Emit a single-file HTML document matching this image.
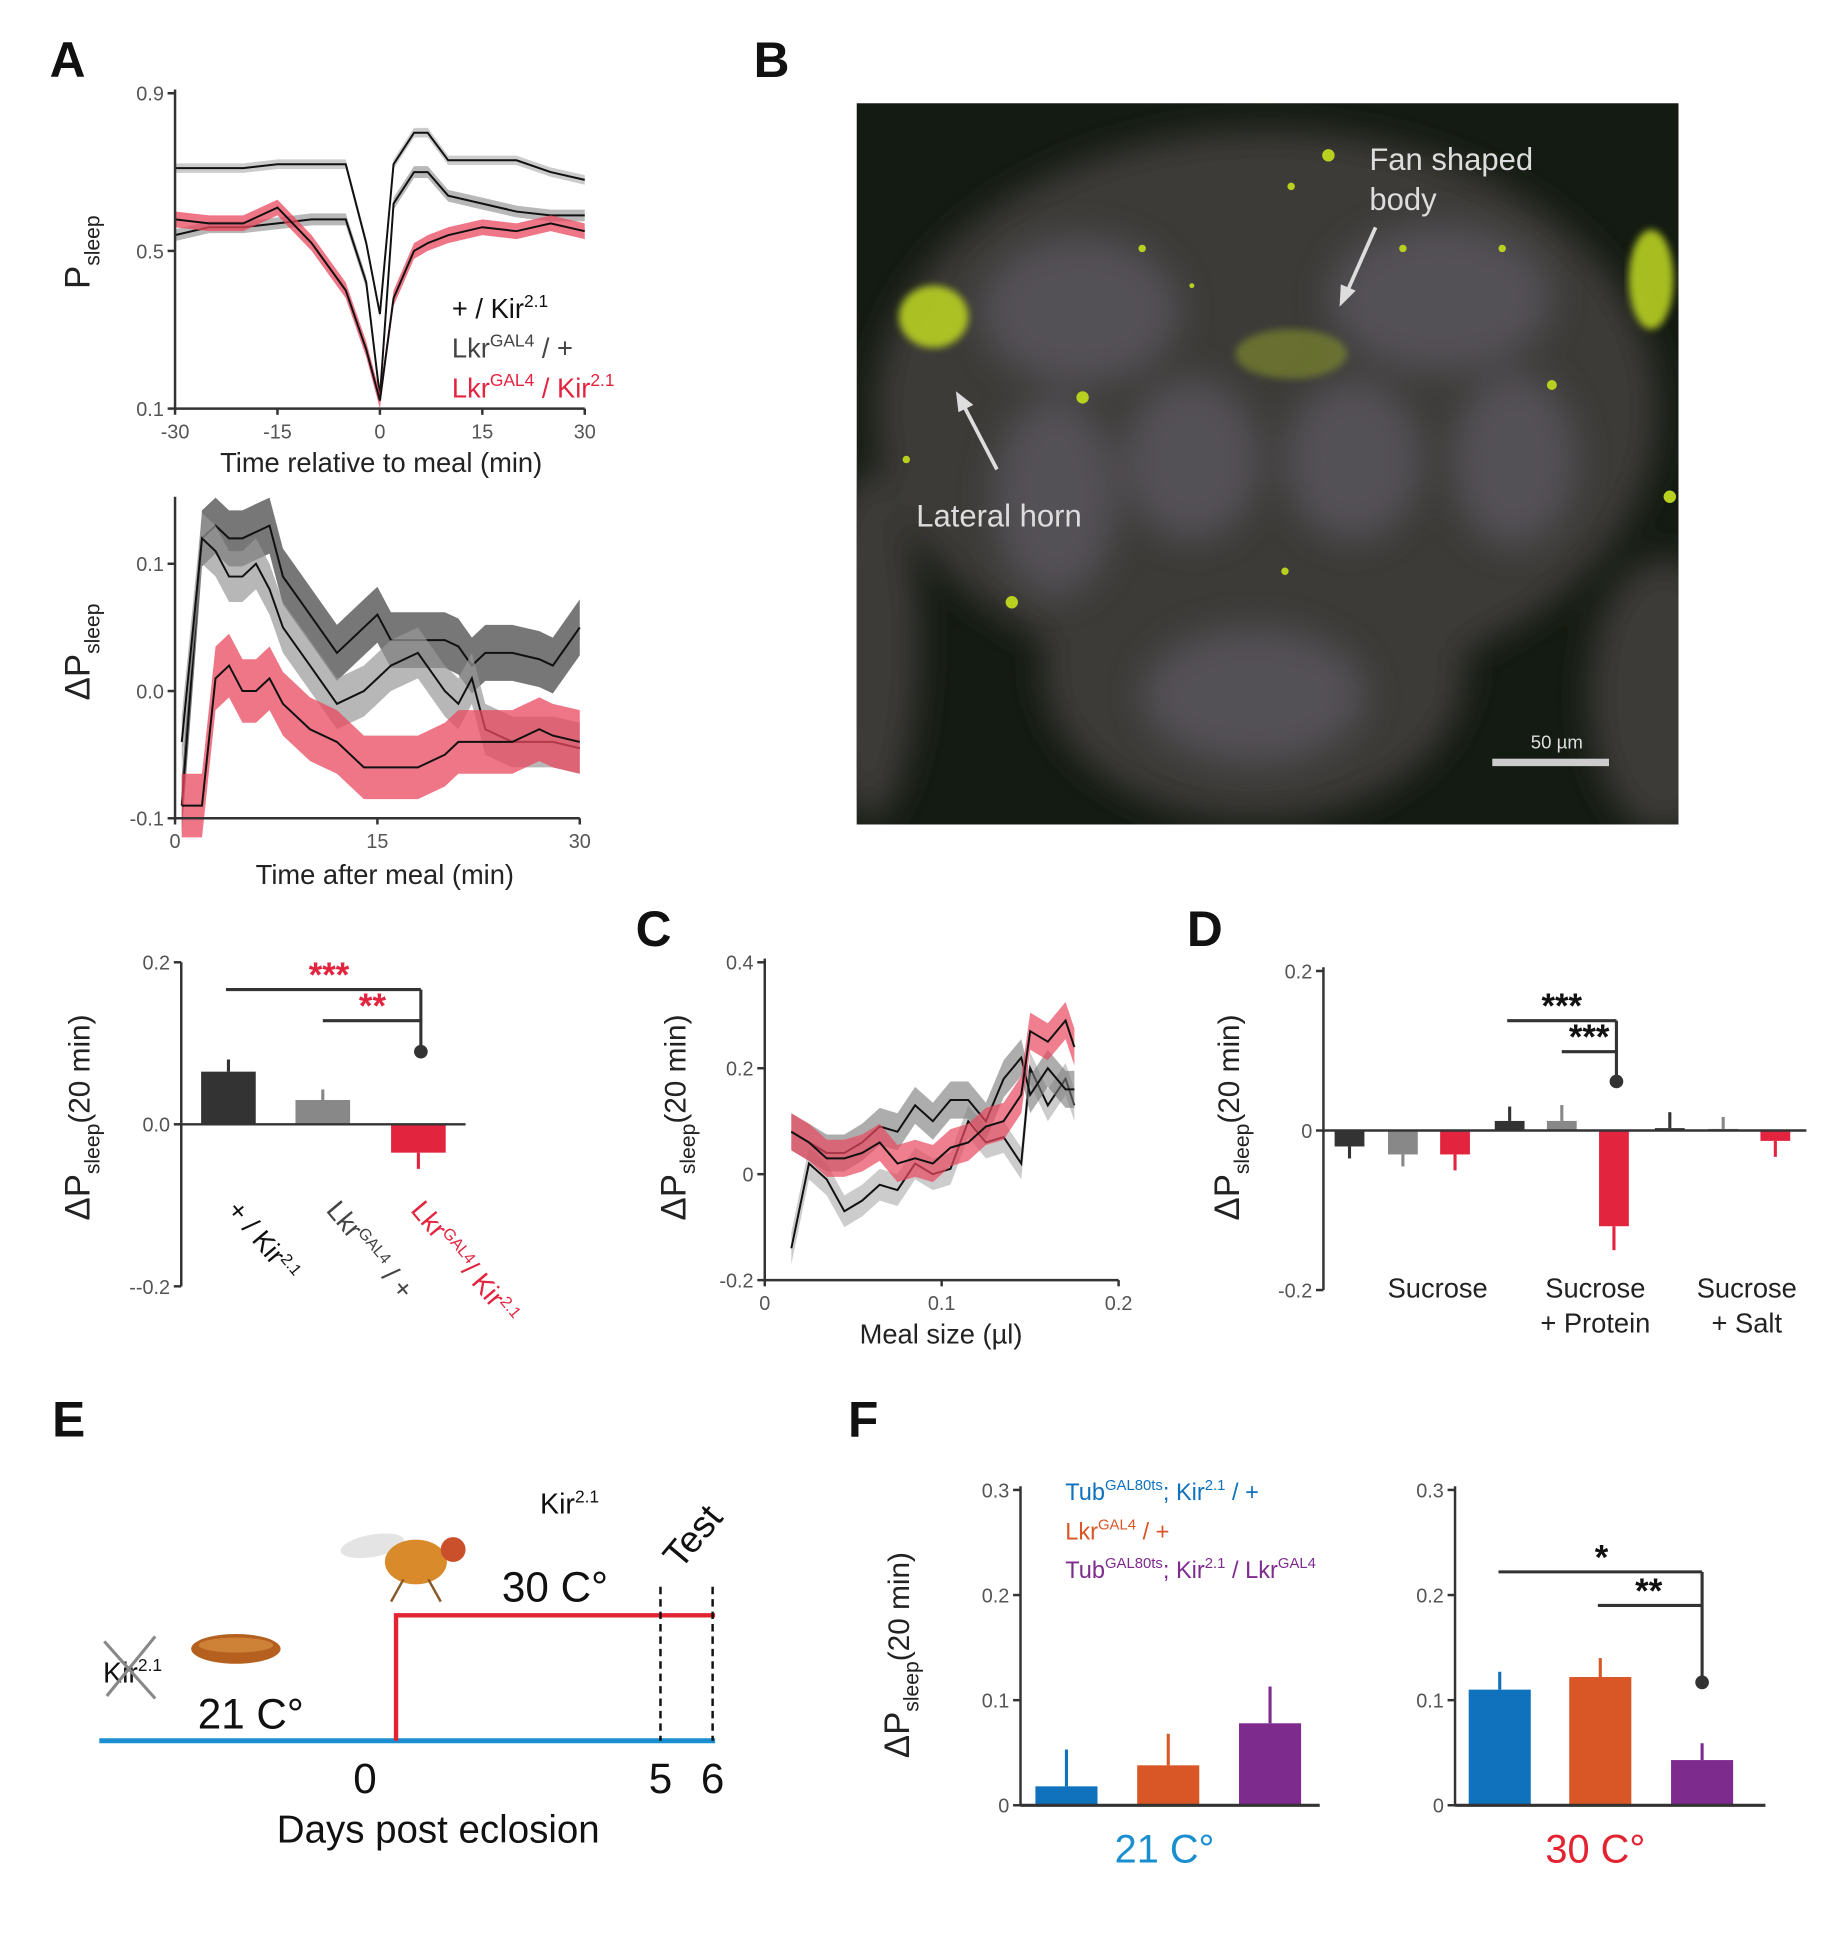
<!DOCTYPE html>
<html><head><meta charset="utf-8"><style>
html,body{margin:0;padding:0;background:#fff;}
svg{display:block;font-family:"Liberation Sans",sans-serif;}
</style></head><body>
<svg id="fig" width="1825" height="1937" viewBox="0 0 1470 1560" xmlns="http://www.w3.org/2000/svg">
<defs>
<filter id="blur" x="-20%" y="-20%" width="140%" height="140%"><feGaussianBlur stdDeviation="14"/></filter>
<filter id="blur2"><feGaussianBlur stdDeviation="3"/></filter>
<clipPath id="imgclip"><rect x="690" y="83" width="662" height="581"/></clipPath>
</defs>
<g font-weight="bold" font-size="40" fill="#111">
<text x="40" y="62">A</text>
<text x="607" y="62">B</text>
<text x="512" y="762">C</text>
<text x="956" y="762">D</text>
<text x="42" y="1157">E</text>
<text x="683" y="1157">F</text>
</g>

<!-- Panel B image approximation -->
<g clip-path="url(#imgclip)">
<rect x="690" y="83" width="662" height="581" fill="#141b12"/>
<g filter="url(#blur)" fill="#3e3b38">
<ellipse cx="1020" cy="330" rx="315" ry="225"/>
<ellipse cx="1010" cy="540" rx="170" ry="120"/>
<ellipse cx="700" cy="520" rx="40" ry="140"/>
<ellipse cx="1340" cy="560" rx="60" ry="110"/>
</g>
<g filter="url(#blur)" fill="#57525a" opacity="0.9">
<ellipse cx="870" cy="250" rx="80" ry="60"/>
<ellipse cx="1160" cy="240" rx="90" ry="60"/>
<ellipse cx="850" cy="400" rx="50" ry="80"/>
<ellipse cx="960" cy="370" rx="55" ry="65"/>
<ellipse cx="1090" cy="370" rx="55" ry="65"/>
<ellipse cx="1010" cy="560" rx="90" ry="55"/>
<ellipse cx="1220" cy="370" rx="50" ry="70"/>
</g>
<g fill="#b8d020">
<ellipse cx="752" cy="255" rx="28" ry="25" filter="url(#blur2)" opacity="0.9"/>
<ellipse cx="1330" cy="225" rx="18" ry="40" filter="url(#blur2)" opacity="0.9"/>
<ellipse cx="1040" cy="285" rx="45" ry="20" opacity="0.35" filter="url(#blur2)"/>
<circle cx="1070" cy="125" r="5"/><circle cx="1040" cy="150" r="3"/><circle cx="1130" cy="200" r="3"/>
<circle cx="872" cy="320" r="5"/><circle cx="1250" cy="310" r="4"/><circle cx="1345" cy="400" r="5"/>
<circle cx="730" cy="370" r="3"/><circle cx="815" cy="485" r="5"/><circle cx="1035" cy="460" r="3"/>
<circle cx="920" cy="200" r="3"/><circle cx="960" cy="230" r="2"/><circle cx="1210" cy="200" r="3"/>
</g>
<rect x="1202" y="611" width="94" height="6" fill="#ccc"/>
<text x="1254" y="603" fill="#ddd" font-size="15" text-anchor="middle">50 µm</text>
<text x="1103" y="137" fill="#ddd" font-size="25">Fan shaped</text>
<text x="1103" y="169" fill="#ddd" font-size="25">body</text>
<text x="738" y="424" fill="#ddd" font-size="25">Lateral horn</text>
<line x1="1108" y1="183" x2="1085" y2="235" stroke="#ddd" stroke-width="3"/>
<polygon points="1079,247 1080,229 1092,234" fill="#ddd"/>
<line x1="803" y1="378" x2="777" y2="328" stroke="#ddd" stroke-width="3"/>
<polygon points="770,315 784,326 772,332" fill="#ddd"/>
</g>

<!-- Panel E -->
<g>
<line x1="80" y1="1402" x2="576" y2="1402" stroke="#1a8fd0" stroke-width="4"/>
<polyline points="319,1402 319,1301 576,1301" fill="none" stroke="#e32430" stroke-width="3.5"/>
<line x1="532" y1="1278" x2="532" y2="1402" stroke="#111" stroke-width="2" stroke-dasharray="6,4"/>
<line x1="574" y1="1278" x2="574" y2="1402" stroke="#111" stroke-width="2" stroke-dasharray="6,4"/>
<g font-size="34" fill="#111" text-anchor="middle">
<text x="294" y="1444">0</text>
<text x="532" y="1444">5</text>
<text x="574" y="1444">6</text>
<text x="353" y="1484" font-size="31">Days post eclosion</text>
<text x="202" y="1392">21 C°</text>
<text x="447" y="1290">30 C°</text>
</g>
<text x="435" y="1219" font-size="23" fill="#111">Kir<tspan font-size="14" dy="-9">2.1</tspan></text>
<text x="0" y="0" font-size="30" fill="#111" transform="translate(548,1265) rotate(-50)">Test</text>
<text x="83" y="1355" font-size="23" fill="#111">Kir<tspan font-size="14" dy="-9">2.1</tspan></text>
<line x1="84" y1="1322" x2="125" y2="1368" stroke="#888" stroke-width="2.5"/>
<line x1="125" y1="1318" x2="86" y2="1366" stroke="#888" stroke-width="2.5"/>
<ellipse cx="190" cy="1328" rx="36" ry="12" fill="#b5601e"/>
<ellipse cx="190" cy="1325" rx="30" ry="6" fill="#e09a4a" opacity="0.6"/>
<g>
<ellipse cx="300" cy="1245" rx="26" ry="9" fill="#ddd" opacity="0.8" transform="rotate(-10 300 1245)"/>
<ellipse cx="335" cy="1258" rx="25" ry="18" fill="#d98a2a"/>
<circle cx="365" cy="1248" r="10" fill="#c9502a"/>
<line x1="325" y1="1272" x2="315" y2="1290" stroke="#8a5a2a" stroke-width="2"/>
<line x1="345" y1="1272" x2="355" y2="1290" stroke="#8a5a2a" stroke-width="2"/>
</g>
</g>

<!-- Panel F legend -->
<g font-size="19">
<text x="858" y="1208" fill="#1071bd">Tub<tspan font-size="12" dy="-8">GAL80ts</tspan><tspan dy="8">; Kir</tspan><tspan font-size="12" dy="-8">2.1</tspan><tspan dy="8"> / +</tspan></text>
<text x="858" y="1240" fill="#d95627">Lkr<tspan font-size="12" dy="-8">GAL4</tspan><tspan dy="8"> / +</tspan></text>
<text x="858" y="1271" fill="#7e2b8e">Tub<tspan font-size="12" dy="-8">GAL80ts</tspan><tspan dy="8">; Kir</tspan><tspan font-size="12" dy="-8">2.1</tspan><tspan dy="8"> / Lkr</tspan><tspan font-size="12" dy="-8">GAL4</tspan></text>
</g>
<text x="364" y="256" font-size="22" fill="#111">+ / Kir<tspan font-size="14" dy="-9">2.1</tspan></text>
<text x="364" y="288" font-size="22" fill="#444">Lkr<tspan font-size="14" dy="-9">GAL4</tspan><tspan dy="9"> / +</tspan></text>
<text x="364" y="320" font-size="22" fill="#e32440">Lkr<tspan font-size="14" dy="-9">GAL4</tspan><tspan dy="9"> / Kir</tspan><tspan font-size="14" dy="-9">2.1</tspan></text>

<g id="charts"></g>
</svg>
<script>
// ---------- data ----------
// Panel A top: time relative to meal
const aTopTime = [-30,-25,-20,-15,-10,-5,-2,0,2,5,7,10,15,20,25,30];
const aTopKir  = [0.71,0.71,0.71,0.72,0.72,0.72,0.52,0.34,0.72,0.80,0.80,0.73,0.73,0.73,0.70,0.68];
const aTopLkr  = [0.54,0.56,0.56,0.57,0.58,0.58,0.42,0.13,0.62,0.70,0.70,0.64,0.62,0.60,0.59,0.59];
const aTopExp  = [0.58,0.57,0.57,0.61,0.52,0.40,0.25,0.12,0.38,0.50,0.52,0.54,0.56,0.55,0.57,0.55];
const aTopTicksY = [0.1,0.5,0.9];
const aTopTicksX = [-30,-15,0,15,30];
// Panel A middle: time after meal
const aMidTime = [0.5,2,3,4,5,6,7,8,10,12,14,15,16,18,20,21,22,23,25,27,28,30];
const aMidS1 = [-0.09,0.12,0.13,0.12,0.12,0.125,0.13,0.09,0.06,0.03,0.05,0.06,0.04,0.04,0.04,0.035,0.02,0.03,0.03,0.025,0.02,0.05];
const aMidS2 = [-0.04,0.12,0.11,0.09,0.09,0.10,0.08,0.05,0.02,-0.01,0.00,0.01,0.02,0.03,0.00,-0.01,0.01,-0.03,-0.04,-0.04,-0.04,-0.045];
const aMidS3 = [-0.09,-0.09,0.01,0.02,0.00,0.00,0.01,-0.01,-0.03,-0.04,-0.06,-0.06,-0.06,-0.06,-0.05,-0.04,-0.04,-0.04,-0.04,-0.03,-0.035,-0.04];
const aMidTicksY = [-0.1,0.0,0.1];
const aMidTicksX = [0,15,30];
// Panel A bottom bars
const aBarCats = ['kir','lkr','lkr-kir'];
const aBarVals = [0.065,0.03,-0.035];
const aBarErr  = [0.015,0.013,0.02];
const aBarTicks = [-0.2,0.0,0.2];
// Panel C
const cMeal = [0.015,0.025,0.035,0.045,0.055,0.065,0.075,0.085,0.095,0.105,0.115,0.125,0.135,0.145,0.15,0.16,0.17,0.175];
const cRed  = [0.08,0.06,0.03,0.03,0.04,0.06,0.02,0.03,0.02,0.05,0.06,0.09,0.10,0.15,0.27,0.25,0.29,0.24];
const cDark = [0.08,0.06,0.04,0.04,0.06,0.09,0.08,0.13,0.10,0.14,0.14,0.10,0.18,0.22,0.15,0.20,0.16,0.16];
const cLight= [-0.14,0.02,-0.01,-0.07,-0.05,-0.02,-0.03,0.02,0.00,0.01,0.10,0.06,0.07,0.02,0.20,0.13,0.18,0.13];
const cTicksY = [-0.2,0,0.2,0.4];
const cTicksX = [0,0.1,0.2];
// Panel D
const dGroups = ['Sucrose','Sucrose + Protein','Sucrose + Salt'];
const dVals = [-0.02,-0.03,-0.03, 0.012,0.012,-0.12, 0.003,0.002,-0.013];
const dErr  = [0.015,0.015,0.02, 0.018,0.02,0.03, 0.02,0.015,0.02];
const dTicks = [-0.2,0,0.2];
// Panel F
const fVals21 = [0.018,0.038,0.078];
const fErr21  = [0.035,0.03,0.035];
const fVals30 = [0.11,0.122,0.043];
const fErr30  = [0.017,0.018,0.016];
const fTicks = [0,0.1,0.2,0.3];

// ---------- helpers ----------
const NS='http://www.w3.org/2000/svg';
const root=document.getElementById('charts');
function mk(tag,attrs,parent){const e=document.createElementNS(NS,tag);for(const k in attrs)e.setAttribute(k,attrs[k]);(parent||root).appendChild(e);return e;}
function lin(d0,d1,r0,r1){return v=>r0+(v-d0)/(d1-d0)*(r1-r0);}
function linePath(xs,ys,sx,sy){return xs.map((x,i)=>(i?'L':'M')+sx(x).toFixed(1)+','+sy(ys[i]).toFixed(1)).join('');}
function bandPath(xs,ys,hw,sx,sy){let p=xs.map((x,i)=>(i?'L':'M')+sx(x).toFixed(1)+','+sy(ys[i]+hw).toFixed(1)).join('');for(let i=xs.length-1;i>=0;i--)p+='L'+sx(xs[i]).toFixed(1)+','+sy(ys[i]-hw).toFixed(1);return p+'Z';}
function yAxis(x,sy,ticks,fmt,top,bot,name){
  const g=mk('g',{});
  
  
  mk('line',{x1:x,y1:top,x2:x,y2:bot,stroke:'#333','stroke-width':2},g);
  ticks.forEach(t=>{mk('line',{x1:x-6,y1:sy(t),x2:x,y2:sy(t),stroke:'#333','stroke-width':2},g);
    const tx=mk('text',{x:x-9,y:sy(t)+6,'font-size':16,fill:'#555','text-anchor':'end'},g);tx.textContent=fmt(t);});
  return g;
}
function xAxis(y,sx,ticks,fmt,l,r,name){
  const g=mk('g',{});
  
  
  mk('line',{x1:l,y1:y,x2:r,y2:y,stroke:'#333','stroke-width':2},g);
  ticks.forEach(t=>{mk('line',{x1:sx(t),y1:y,x2:sx(t),y2:y+5,stroke:'#333','stroke-width':2},g);
    const tx=mk('text',{x:sx(t),y:y+24,'font-size':16,fill:'#555','text-anchor':'middle'},g);tx.textContent=fmt(t);});
  return g;
}
function yTitle(cx,cy,prefix,suffix,name){
  const t=mk('text',{x:0,y:0,'font-size':28,fill:'#222','text-anchor':'middle',transform:`translate(${cx},${cy}) rotate(-90)`});
  
  
  t.innerHTML=prefix+'P<tspan font-size="17" dy="8">sleep</tspan>'+(suffix?'<tspan dy="-8" font-size="24">'+suffix+'</tspan>':'');
}
function xTitle(x,y,txt,name){const t=mk('text',{x:x,y:y,'font-size':22,fill:'#222','text-anchor':'middle'});t.textContent=txt;
  
  }
function series(xs,ys,hw,color,op,sx,sy,name){
  const b=mk('path',{d:bandPath(xs,ys,hw,sx,sy),fill:color,opacity:op});
  
  
  const l=mk('path',{d:linePath(xs,ys,sx,sy),fill:'none',stroke:'#111','stroke-width':1.6});
  
  
}
function bar(cx,w,v,err,color,sy,name){
  const y0=sy(0),y1=sy(v);
  const r=mk('rect',{x:cx-w/2,y:Math.min(y0,y1),width:w,height:Math.abs(y1-y0),fill:color});
  
  
  const e=mk('line',{x1:cx,y1:y1,x2:cx,y2:sy(v+(v>=0?err:-err)),stroke:color,'stroke-width':2.5});
  
  
}
function sig(x1,x2,y,yd,stars,color,sx,name){
  const g=mk('g',{});
  
  
  mk('line',{x1:x1,y1:y,x2:x2,y2:y,stroke:'#333','stroke-width':2.5},g);
  if(yd){mk('line',{x1:x2,y1:y,x2:x2,y2:yd,stroke:'#333','stroke-width':2.5},g);mk('circle',{cx:x2,cy:yd,r:5.5,fill:'#333'},g);}
  const t=mk('text',{x:sx,y:y-2,'font-size':28,'font-weight':'bold',fill:color,'text-anchor':'middle'},g);t.textContent=stars;
}
const f1=v=>v.toFixed(1), f1m=v=>(v<0?'-':'')+Math.abs(v).toFixed(1);

// ---------- Panel A top ----------
{const sx=lin(-30,30,141,471), sy=lin(0.1,0.9,329,75);
 series(aTopTime,aTopKir,0.012,'#aaa',0.6,sx,sy,'a-top-kir');
 series(aTopTime,aTopLkr,0.015,'#888',0.6,sx,sy,'a-top-lkr');
 series(aTopTime,aTopExp,0.02,'#e8485e',0.75,sx,sy,'a-top-lkr-kir');
 yAxis(141,sy,aTopTicksY,f1,72,329,'a-top-y-axis');
 xAxis(329,sx,aTopTicksX,v=>String(v),141,471,'a-top-x-axis');
 xTitle(307,380,'Time relative to meal (min)','a-top-x-title');
 yTitle(72,203,'','','a-top-y-title');}
// ---------- Panel A middle ----------
{const sx=lin(0,30,141,467), sy=lin(-0.1,0.1,659,454);
 series(aMidTime,aMidS1,0.022,'#555',0.8,sx,sy,'a-mid-kir');
 series(aMidTime,aMidS2,0.02,'#999',0.7,sx,sy,'a-mid-lkr');
 series(aMidTime,aMidS3,0.025,'#e8485e',0.75,sx,sy,'a-mid-lkr-kir');
 yAxis(141,sy,aMidTicksY,f1m,400,659,'a-mid-y-axis');
 xAxis(659,sx,aMidTicksX,v=>String(v),141,467,'a-mid-x-axis');
 xTitle(310,712,'Time after meal (min)','a-mid-x-title');
 yTitle(72,525,'Δ','','a-mid-y-title');}
// ---------- Panel A bottom bars ----------
{const sy=lin(-0.2,0.2,1036,775);
 const cols=['#333','#888','#e3243f'], cx=[184,260,337];
 aBarVals.forEach((v,i)=>bar(cx[i],44,v,aBarErr[i],cols[i],sy,'a-bar-'+aBarCats[i]));
 yAxis(146,sy,aBarTicks,v=>v<0?'--0.2':f1(v),775,1036,'a-bar-y-axis');
 const b=mk('line',{x1:146,y1:sy(0),x2:375,y2:sy(0),stroke:'#333','stroke-width':2});
 
 
 sig(182,339,797,847,'***','#e3243f',265,'a-sig-1');
 sig(260,339,822,0,'**','#e3243f',300,'a-sig-2');
 yTitle(72,900,'Δ','(20 min)','a-bar-y-title');
 const labs=[[182,975,'#111','+ / Kir<tspan font-size="13" dy="-8">2.1</tspan>'],[262,975,'#444','Lkr<tspan font-size="13" dy="-8">GAL4</tspan><tspan dy="8"> / +</tspan>'],[330,975,'#e3243f','Lkr<tspan font-size="13" dy="-8">GAL4</tspan><tspan dy="8">/ Kir</tspan><tspan font-size="13" dy="-8">2.1</tspan>']];
 labs.forEach((l,i)=>{const t=mk('text',{x:0,y:0,'font-size':22,fill:l[2],transform:`translate(${l[0]},${l[1]}) rotate(50)`});t.innerHTML=l[3];
  
  });}
// ---------- Panel C ----------
{const sx=lin(0,0.2,616,901), sy=lin(-0.2,0.4,1031,775);
 series(cMeal,cLight,0.03,'#aaa',0.6,sx,sy,'c-light');
 series(cMeal,cDark,0.035,'#777',0.6,sx,sy,'c-dark');
 series(cMeal,cRed,0.035,'#e8485e',0.7,sx,sy,'c-red');
 yAxis(616,sy,cTicksY,v=>v===0?'0':f1m(v),772,1031,'c-y-axis');
 xAxis(1031,sx,cTicksX,v=>v===0?'0':f1(v),616,901,'c-x-axis');
 xTitle(758,1082,'Meal size (µl)','c-x-title');
 yTitle(552,900,'Δ','(20 min)','c-y-title');}
// ---------- Panel D ----------
{const sy=lin(-0.2,0.2,1039,782);
 const cols=['#333','#888','#e3243f'], cxs=[1087,1130,1172,1216,1258,1300,1345,1388,1430];
 dVals.forEach((v,i)=>bar(cxs[i],24,v,dErr[i],cols[i%3],sy,'d-bar-'+i));
 yAxis(1066,sy,dTicks,v=>v===0?'0':f1m(v),779,1039,'d-y-axis');
 const b=mk('line',{x1:1066,y1:sy(0),x2:1455,y2:sy(0),stroke:'#333','stroke-width':2});
 
 
 sig(1214,1302,822,871,'***','#111',1258,'d-sig-1');
 sig(1258,1302,847,0,'***','#111',1280,'d-sig-2');
 yTitle(998,900,'Δ','(20 min)','d-y-title');
 const gx=[1158,1285,1407];
 dGroups.forEach((g,i)=>{const parts=g.split(' + ');
  const t=mk('text',{x:gx[i],y:1045,'font-size':22,fill:'#222','text-anchor':'middle'});t.textContent=parts[0];
  
  
  if(parts[1]){const t2=mk('text',{x:gx[i],y:1073,'font-size':22,fill:'#222','text-anchor':'middle'});t2.textContent='+ '+parts[1];
   
   }});}
// ---------- Panel F ----------
{const sy=lin(0,0.3,1454,1200);
 const cols=['#1071bd','#d95627','#7e2b8e'];
 const c21=[859,941,1023], c30=[1208,1289,1371];
 fVals21.forEach((v,i)=>bar(c21[i],50,v,fErr21[i],cols[i],sy,'f21-bar-'+i));
 fVals30.forEach((v,i)=>bar(c30[i],50,v,fErr30[i],cols[i],sy,'f30-bar-'+i));
 yAxis(822,sy,fTicks,v=>v===0?'0':f1(v),1197,1454,'f21-y-axis');
 yAxis(1172,sy,fTicks,v=>v===0?'0':f1(v),1197,1454,'f30-y-axis');
 const b1=mk('line',{x1:822,y1:1454,x2:1063,y2:1454,stroke:'#333','stroke-width':2.5});
 
 
 const b2=mk('line',{x1:1172,y1:1454,x2:1422,y2:1454,stroke:'#333','stroke-width':2.5});
 
 
 sig(1207,1371,1266,1355,'*','#111',1290,'f-sig-1');
 sig(1287,1371,1293,0,'**','#111',1328,'f-sig-2');
 yTitle(732,1333,'Δ','(20 min)','f-y-title');
 const t1=mk('text',{x:938,y:1500,'font-size':32,fill:'#1a8fd0','text-anchor':'middle'});t1.textContent='21 C°';
 
 
 const t2=mk('text',{x:1285,y:1500,'font-size':32,fill:'#e32430','text-anchor':'middle'});t2.textContent='30 C°';
 
 }
</script>
</body></html>
